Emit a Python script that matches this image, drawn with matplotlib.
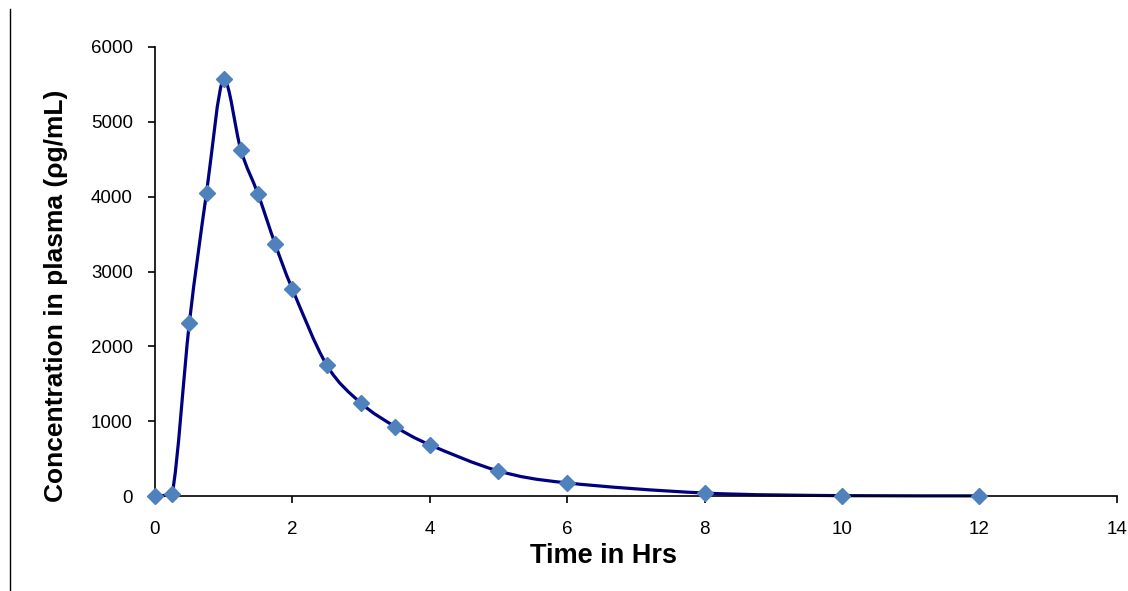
import numpy as np
import matplotlib.pyplot as plt
from matplotlib.path import Path
from matplotlib.patches import PathPatch
from matplotlib.lines import Line2D

# sampling times (h) and plasma concentration (pg/mL)
hours = [0, 0.25, 0.5, 0.75, 1, 1.25, 1.5, 1.75, 2, 2.5, 3, 3.5, 4, 5, 6, 8, 10, 12]
conc = [0, 30, 2310, 4050, 5575, 4625, 4035, 3365, 2765, 1750, 1240, 925, 685, 335, 175, 40, 5, 2]

plt.rcParams['font.family'] = ['Liberation Sans', 'DejaVu Sans']

fig = plt.figure(figsize=(11.28, 5.91), dpi=100)
ax = fig.add_axes([0.1374, 0.1607, 0.8526, 0.7598])


def smooth_path(x, y, tension=1 / 6):
    # Excel-like smoothing: cubic bezier segments with Catmull-Rom control points,
    # control points kept inside each segment's y range so the line never overshoots
    x = np.asarray(x, float)
    y = np.asarray(y, float)
    verts = [(x[0], y[0])]
    codes = [Path.MOVETO]
    n = len(x)
    for i in range(n - 1):
        i0 = max(i - 1, 0)
        i3 = min(i + 2, n - 1)
        lo, hi = min(y[i], y[i + 1]), max(y[i], y[i + 1])
        c1 = (x[i] + (x[i + 1] - x[i0]) * tension,
              np.clip(y[i] + (y[i + 1] - y[i0]) * tension, lo, hi))
        c2 = (x[i + 1] - (x[i3] - x[i]) * tension,
              np.clip(y[i + 1] - (y[i3] - y[i]) * tension, lo, hi))
        verts += [c1, c2, (x[i + 1], y[i + 1])]
        codes += [Path.CURVE4] * 3
    return Path(verts, codes)


ax.add_patch(PathPatch(smooth_path(hours, conc), facecolor='none',
                       edgecolor='#000080', lw=2.3, zorder=2, clip_on=False))
ax.plot(hours, conc, linestyle='none', marker='D', markersize=8,
        color='#4F81BD', zorder=3, clip_on=False)

ax.set_xlim(0, 14)
ax.set_ylim(0, 6000)
ax.set_xticks(range(0, 15, 2))
ax.set_yticks(range(0, 6001, 1000))

for side in ['top', 'right']:
    ax.spines[side].set_visible(False)
for side in ['left', 'bottom']:
    ax.spines[side].set_linewidth(1.2)

ax.tick_params(axis='y', direction='out', length=5, width=1.2, pad=11, labelsize=13.5)
ax.tick_params(axis='x', direction='out', length=5, width=1.2, pad=13, labelsize=13.5)

ax.set_xlabel('Time in Hrs', fontsize=19.5, fontweight='bold')
ax.set_ylabel('Concentration in plasma (ρg/mL)', fontsize=19, fontweight='bold')
ax.xaxis.set_label_coords(0.466, -0.105)
ax.yaxis.set_label_coords(-0.090, 0.445)

# thin border line on the left side of the picture
fig.add_artist(Line2D([10 / 1128, 10 / 1128], [0.0, 0.985], transform=fig.transFigure,
                      color='black', lw=1))

fig.savefig('out.png', dpi=100)
